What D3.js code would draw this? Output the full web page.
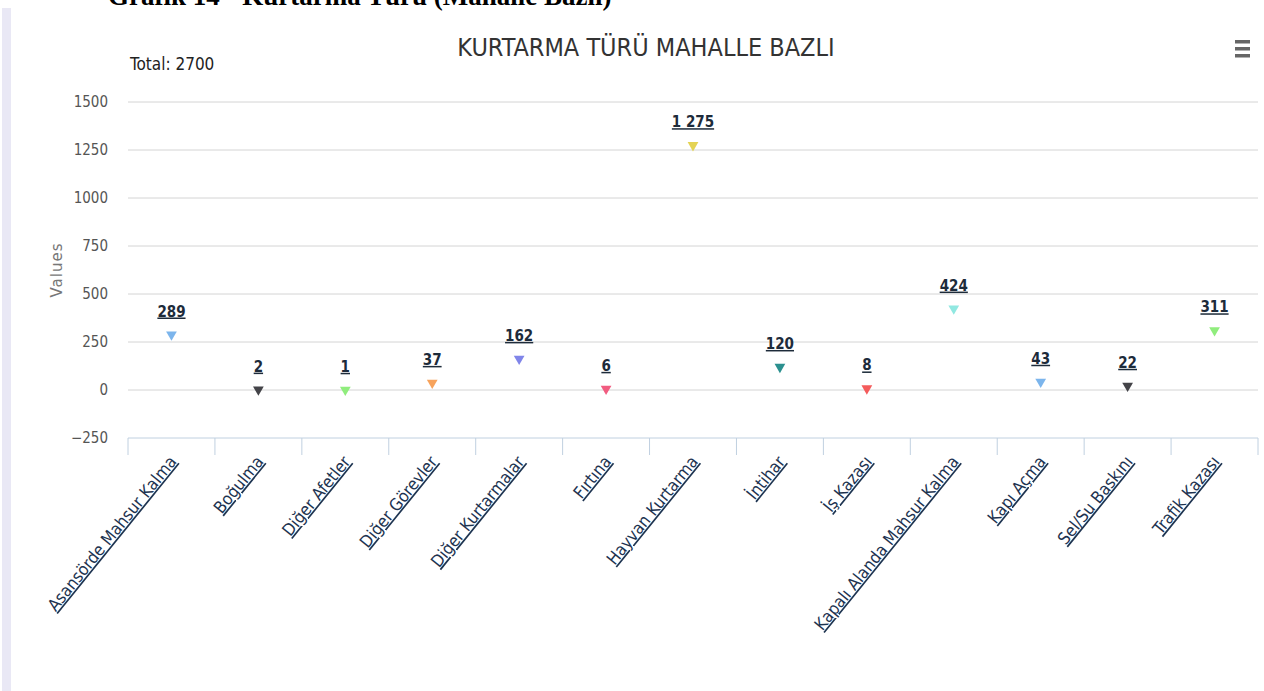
<!DOCTYPE html>
<html>
<head>
<meta charset="utf-8">
<script src="https://cdn.jsdelivr.net/npm/d3@7"></script>
<style>
  body { margin: 0; background: #fff; }
  svg { display: block; }
</style>
</head>
<body>
<div class="chart"></div>
<script>
// data
var categories = ["Asansörde Mahsur Kalma", "Boğulma", "Diğer Afetler", "Diğer Görevler",
    "Diğer Kurtarmalar", "Fırtına", "Hayvan Kurtarma", "İntihar", "İş Kazası",
    "Kapalı Alanda Mahsur Kalma", "Kapı Açma", "Sel/Su Baskını", "Trafik Kazası"];
var values = [289, 2, 1, 37, 162, 6, 1275, 120, 8, 424, 43, 22, 311];
var colors = ["#7cb5ec", "#434348", "#90ed7d", "#f7a35c", "#8085e9", "#f15c80", "#e4d354",
    "#2b908f", "#f45b5b", "#91e8e1", "#7cb5ec", "#434348", "#90ed7d"];
var yTicks = [-250, 0, 250, 500, 750, 1000, 1250, 1500];

var width = 1264, height = 691;
var margin = {top: 102, right: 6, bottom: 253, left: 128};

var svg = d3.select("div.chart")
    .append("svg")
    .attr("width", width)
    .attr("height", height);

// left page strip + cut-off heading of the document
svg.append("rect")
    .attr("x", 2).attr("y", 8).attr("width", 9).attr("height", height)
    .style("fill", "#e9e8f5");
svg.append("text")
    .attr("x", 108).attr("y", 5)
    .style("font-family", "Liberation Serif")
    .style("font-weight", "bold")
    .style("font-size", "27px")
    .text("Grafik 14 - Kurtarma Türü (Mahalle Bazlı)");

var x = d3.scaleBand()
    .domain(categories)
    .range([margin.left, width - margin.right]);

var y = d3.scaleLinear()
    .domain([-250, 1500])
    .range([height - margin.bottom, margin.top]);

var fmt = d3.formatLocale({decimal: ",", thousands: " ", grouping: [3], currency: ["", ""]}).format(",d");

// grid lines
svg.append("g")
    .selectAll("line")
    .data(yTicks.filter(function (d) { return d > -250; }))
    .enter().append("line")
    .attr("x1", margin.left).attr("x2", width - margin.right)
    .attr("y1", function (d) { return y(d); })
    .attr("y2", function (d) { return y(d); })
    .style("stroke", "#d4d4d4");

// y axis labels
var yAxis = svg.append("g")
    .attr("transform", "translate(" + (margin.left - 20) + ",0)")
    .call(d3.axisLeft(y).tickValues(yTicks).tickSize(0).tickPadding(0).tickFormat(d3.format("d")));
yAxis.select(".domain").remove();
yAxis.selectAll("text")
    .style("font-family", "DejaVu Sans Condensed")
    .style("font-size", "15px")
    .style("fill", "#555");

svg.append("text")
    .attr("transform", "translate(62," + y(625) + ") rotate(-90)")
    .attr("text-anchor", "middle")
    .style("font-family", "DejaVu Sans")
    .style("font-size", "15px")
    .style("letter-spacing", "1px")
    .style("fill", "#777")
    .text("Values");

// x axis
var xAxis = svg.append("g")
    .attr("transform", "translate(0," + y(-250) + ")");
xAxis.append("line")
    .attr("x1", margin.left).attr("x2", width - margin.right)
    .style("stroke", "#c0d0e0");
xAxis.selectAll("line.tick")
    .data(categories.concat(["end"]))
    .enter().append("line")
    .attr("class", "tick")
    .attr("x1", function (d, i) { return i < categories.length ? x(d) : x.range()[1]; })
    .attr("x2", function (d, i) { return i < categories.length ? x(d) : x.range()[1]; })
    .attr("y1", 0).attr("y2", 17)
    .style("stroke", "#c0d0e0");
xAxis.selectAll("text")
    .data(categories)
    .enter().append("text")
    .attr("transform", function (d) {
        return "translate(" + (x(d) + x.bandwidth() / 2 + 6) + ",24) rotate(-51)";
    })
    .attr("text-anchor", "end")
    .style("font-family", "DejaVu Sans Condensed")
    .style("font-size", "17px")
    .style("text-decoration", "underline")
    .style("fill", "#1d3350")
    .text(function (d) { return d; });

// markers
var tri = d3.symbol().type(d3.symbolTriangle).size(50);
svg.append("g")
    .selectAll("path")
    .data(values)
    .enter().append("path")
    .attr("d", tri)
    .attr("transform", function (d, i) {
        return "translate(" + (x(categories[i]) + x.bandwidth() / 2) + "," + y(d) + ") rotate(180)";
    })
    .style("fill", function (d, i) { return colors[i]; });

svg.append("g")
    .selectAll("text")
    .data(values)
    .enter().append("text")
    .attr("x", function (d, i) { return x(categories[i]) + x.bandwidth() / 2; })
    .attr("y", function (d) { return y(d) - 18; })
    .attr("text-anchor", "middle")
    .style("font-family", "DejaVu Sans Condensed")
    .style("font-weight", "bold")
    .style("font-size", "15px")
    .style("text-decoration", "underline")
    .style("fill", "#1d2b3a")
    .text(function (d) { return fmt(d); });

// title, total, menu
svg.append("text")
    .attr("x", 646).attr("y", 56)
    .attr("text-anchor", "middle")
    .style("font-family", "DejaVu Sans Condensed")
    .style("font-size", "25px")
    .style("fill", "#333")
    .text("KURTARMA TÜRÜ MAHALLE BAZLI");
svg.append("text")
    .attr("x", 130).attr("y", 70)
    .style("font-family", "DejaVu Sans Condensed")
    .style("font-size", "17px")
    .style("fill", "#222")
    .text("Total: 2700");
svg.append("g")
    .selectAll("rect")
    .data([0, 1, 2])
    .enter().append("rect")
    .attr("x", 1235).attr("y", function (d) { return 40 + d * 7; })
    .attr("width", 15).attr("height", 3.5)
    .style("fill", "#666");
</script>
</body>
</html>
